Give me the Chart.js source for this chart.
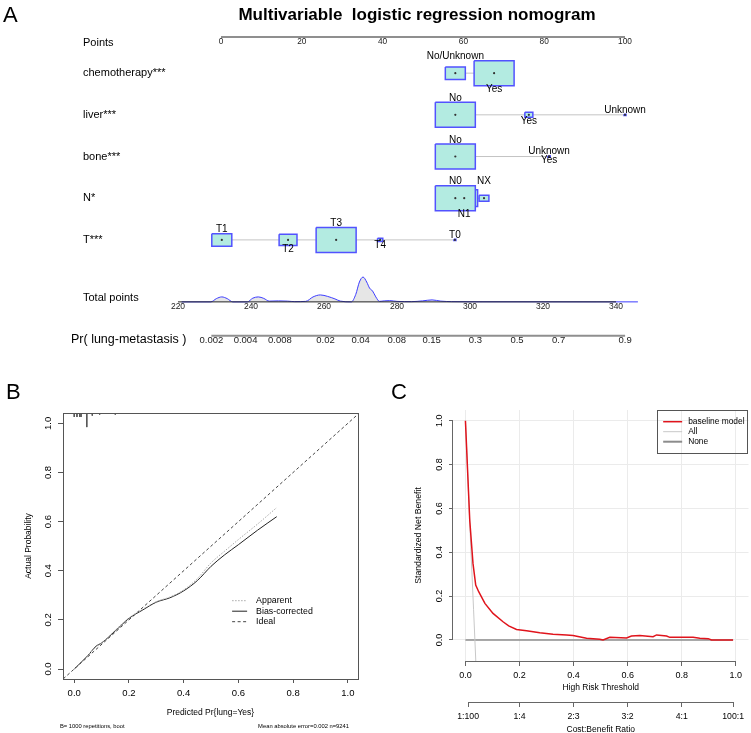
<!DOCTYPE html>
<html>
<head>
<meta charset="utf-8">
<title>Nomogram, calibration and decision curve</title>
<script src="https://cdn.jsdelivr.net/npm/chart.js@4.4.1/dist/chart.umd.min.js"></script>
<style>
  html, body { margin: 0; padding: 0; background: #fff; }
  #fig { position: relative; width: 751px; height: 733px; overflow: hidden; font-family: "Liberation Sans", Arial, sans-serif; }
  .panel { position: absolute; }
  .tag { position: absolute; font-size: 22px; line-height: 1; color: #000; }
</style>
</head>
<body>
<div id="fig">
  <div class="panel" style="left:0;top:0;width:751px;height:365px"><canvas id="nomo"></canvas></div>
  <div class="panel" style="left:0;top:365px;width:375px;height:368px"><canvas id="calib"></canvas></div>
  <div class="panel" style="left:375px;top:365px;width:376px;height:370px"><canvas id="dca"></canvas></div>
  <div class="tag" style="left:3px;top:4px">A</div>
  <div class="tag" style="left:6px;top:381px">B</div>
  <div class="tag" style="left:391px;top:381px">C</div>
</div>
<script>
(function () {
  "use strict";

  // ---- A: nomogram ----
  const pointTicks = [0, 20, 40, 60, 80, 100];
  const totalTicks = [220, 240, 260, 280, 300, 320, 340];
  const probTicks = [0.002, 0.004, 0.008, 0.02, 0.04, 0.08, 0.15, 0.3, 0.5, 0.7, 0.9];

  const rowLabels = ['Points', 'chemotherapy***', 'liver***', 'bone***', 'N*', 'T***', 'Total points'];
  const probLabel = 'Pr( lung-metastasis )';

  const chemoLevels = ['No/Unknown', 'Yes'];
  const chemoPoints = [58.0, 67.6];
  const chemoShare = [0.25, 1.0];
  const liverLevels = ['No', 'Yes', 'Unknown'];
  const liverPoints = [58.0, 76.2, 100];
  const liverShare = [1.0, 0.04, 0.002];
  const boneLevels = ['No', 'Unknown', 'Yes'];
  const bonePoints = [58.0, 81.2, 81.2];
  const boneShare = [1.0, 0.002, 0.002];
  const nLevels = ['N0', 'N1', 'NX'];
  const nPoints = [58.0, 60.2, 65.1];
  const nShare = [1.0, 0.45, 0.06];
  const tLevels = ['T1', 'T2', 'T3', 'T4', 'T0'];
  const tPoints = [0.2, 16.6, 28.5, 39.4, 57.9];
  const tShare = [0.25, 0.2, 1.0, 0.017, 0.002];

  // density of total points
  const densTotal = [221, 229, 230.5, 232, 233.5, 235, 239, 240.5, 242, 243.5, 245, 247.5, 250, 252,
    255, 257, 259, 261, 263, 264.5, 267.5, 268.7, 269.7, 270.7, 271.7, 272.5, 273.3, 274.2, 275.2,
    276.5, 278, 280, 284, 287, 289.6, 292, 295, 300, 320, 346];
  const densValue = [0, 0, 0.13, 0.2, 0.13, 0, 0, 0.15, 0.2, 0.14, 0.03, 0.04, 0.03, 0.01,
    0.02, 0.2, 0.28, 0.22, 0.12, 0.03, 0, 0.3, 0.8, 1.0, 0.8, 0.55, 0.44, 0.2, 0.02,
    0.04, 0.05, 0.02, 0.01, 0.04, 0.08, 0.03, 0.01, 0.005, 0.003, 0];

  // ---- B: calibration ----
  const calTicks = [0, 0.2, 0.4, 0.6, 0.8, 1.0];
  const calPred = [0, 0.05, 0.08, 0.1, 0.15, 0.2, 0.25, 0.3, 0.35, 0.4, 0.45, 0.5, 0.55, 0.6, 0.67, 0.74];
  const calApparent = [0, 0.055, 0.09, 0.105, 0.158, 0.208, 0.243, 0.274, 0.293, 0.322, 0.368, 0.432, 0.48, 0.527, 0.59, 0.657];
  const calBias = [0, 0.055, 0.093, 0.106, 0.155, 0.206, 0.24, 0.272, 0.29, 0.318, 0.36, 0.418, 0.465, 0.506, 0.565, 0.62];
  const rugPred = [0.0, 0.01, 0.02, 0.025, 0.046, 0.066, 0.093, 0.15];
  const rugLen = [0.015, 0.015, 0.015, 0.015, 0.053, 0.01, 0.006, 0.006];

  // ---- C: decision curve ----
  const dcaTicks = [0, 0.2, 0.4, 0.6, 0.8, 1.0];
  const dcaThreshold = [0, 0.016, 0.028, 0.038, 0.049, 0.072, 0.102, 0.139, 0.16, 0.189, 0.226, 0.275, 0.324, 0.374, 0.398,
    0.448, 0.497, 0.509, 0.534, 0.596, 0.614, 0.645, 0.694, 0.707, 0.744, 0.756, 0.842, 0.867, 0.898, 0.91, 0.99];
  const dcaModel = [1.0, 0.545, 0.348, 0.25, 0.22, 0.167, 0.121, 0.083, 0.064, 0.048, 0.042, 0.033, 0.026, 0.023, 0.02,
    0.008, 0.003, 0.0, 0.012, 0.009, 0.018, 0.02, 0.015, 0.023, 0.018, 0.012, 0.012, 0.008, 0.006, 0.0, 0.0];
  const dcaAllThreshold = [0, 0.01, 0.02, 0.03, 0.035, 0.045];
  const dcaAll = [1.0, 0.71, 0.42, 0.14, 0, -0.29];
  const dcaNoneThreshold = [0, 0.99];
  const dcaNone = [0, 0];
  const ratioAt = [0.01, 0.2, 0.4, 0.6, 0.8, 0.99];
  const ratioLabels = ['1:100', '1:4', '2:3', '3:2', '4:1', '100:1'];

  const FONT = '"Liberation Sans", Arial, Helvetica, sans-serif';
  const logit = p => Math.log(p / (1 - p));
  const xy = (xs, ys) => xs.map((v, i) => ({x: v, y: ys[i]}));

  Chart.defaults.font.family = FONT;
  Chart.defaults.color = '#000';
  Chart.defaults.animation = false;
  Chart.defaults.events = [];
  Chart.defaults.plugins.legend.display = false;
  Chart.defaults.plugins.tooltip.enabled = false;
  Chart.defaults.elements.point.radius = 0;

  // R style axis line: only from first to last tick
  const rAxis = {
    id: 'rAxis',
    afterDraw(chart, args, o) {
      if (!o.scales) return;
      const ctx = chart.ctx;
      ctx.save();
      ctx.strokeStyle = o.color;
      ctx.lineWidth = 1;
      o.scales.forEach(id => {
        const s = chart.scales[id];
        const a = s.getPixelForValue(s.ticks[0].value);
        const b = s.getPixelForValue(s.ticks[s.ticks.length - 1].value);
        ctx.beginPath();
        if (s.isHorizontal()) {
          const yy = Math.round(s.top) + 0.5;
          ctx.moveTo(a, yy); ctx.lineTo(b, yy);
        } else {
          const xx = Math.round(s.right) - 0.5;
          ctx.moveTo(xx, a); ctx.lineTo(xx, b);
        }
        ctx.stroke();
      });
      ctx.restore();
    }
  };

  const frame = {
    id: 'frame',
    afterDraw(chart, args, o) {
      if (!o.color) return;
      const a = chart.chartArea, ctx = chart.ctx;
      ctx.save();
      ctx.strokeStyle = o.color;
      ctx.lineWidth = 1;
      ctx.strokeRect(Math.round(a.left) + 0.5, Math.round(a.top) + 0.5, Math.round(a.right - a.left), Math.round(a.bottom - a.top));
      ctx.restore();
    }
  };

  const rLegend = {
    id: 'rLegend',
    afterDraw(chart, args, o) {
      if (!o.items) return;
      const ctx = chart.ctx;
      ctx.save();
      ctx.font = o.font;
      const sets = o.items.map(i => chart.data.datasets[i]);
      const tw = Math.max(...sets.map(d => ctx.measureText(d.label).width));
      let x0, y0;
      if (o.at) {
        x0 = chart.scales.x.getPixelForValue(o.at[0]);
        y0 = chart.scales.y.getPixelForValue(o.at[1]);
      } else {
        const w = o.padL + o.lineLen + o.gap + tw + o.padR;
        const h = o.padT * 2 + (sets.length - 1) * o.rowH;
        const left = chart.chartArea.right - w;
        const top = chart.chartArea.top;
        ctx.strokeStyle = o.frameColor;
        ctx.lineWidth = 1;
        ctx.strokeRect(Math.round(left) + 0.5, Math.round(top) + 0.5, Math.round(w) - 1, Math.round(h));
        x0 = left + o.padL;
        y0 = top + o.padT;
      }
      sets.forEach((d, i) => {
        const yy = y0 + i * o.rowH;
        ctx.strokeStyle = d.borderColor;
        ctx.lineWidth = d.legendWidth || d.borderWidth;
        ctx.setLineDash(d.borderDash || []);
        ctx.beginPath();
        ctx.moveTo(x0, yy);
        ctx.lineTo(x0 + o.lineLen, yy);
        ctx.stroke();
        ctx.setLineDash([]);
        ctx.fillStyle = '#000';
        ctx.textAlign = 'left';
        ctx.textBaseline = 'middle';
        ctx.fillText(d.label, x0 + o.lineLen + o.gap, yy);
      });
      ctx.restore();
    }
  };

  /*---- A: nomogram ----*/
  const nomoVars = [
    {levels: chemoLevels, points: chemoPoints, share: chemoShare},
    {levels: liverLevels, points: liverPoints, share: liverShare},
    {levels: boneLevels, points: bonePoints, share: boneShare},
    {levels: nLevels, points: nPoints, share: nShare},
    {levels: tLevels, points: tPoints, share: tShare}
  ];
  const varRows = [1, 2, 3, 4, 5];
  const rowPoints = 0.13, rowProb = 7.3;
  const labelRows = [0.27, 1, 2, 3, 4, 5, 6.39];
  const probLabelRow = 7.4;
  const labelSide = [['up', 'down'], ['up', 'down', 'up'], ['up', 'up', 'down'], ['up', 'down', 'up'], ['up', 'down', 'up', 'down', 'up']];
  const BOX_W = 9.9, BOX_H = 0.6;
  function boxHalf(share) {
    const s = Math.max(Math.sqrt(share), 0.05);
    return {w: BOX_W * s / 2, h: BOX_H * s / 2};
  }
  // labels clear the tallest box lying close by on the same row
  function labelHalf(v, i) {
    let hh = 0;
    v.points.forEach((p, j) => {
      if (Math.abs(p - v.points[i]) < 10) hh = Math.max(hh, boxHalf(v.share[j]).h);
    });
    return hh;
  }

  const nomoSets = [];
  nomoSets.push({
    data: nomoVars.flatMap((v, r) => v.points.map(p => ({x: p, y: varRows[r]}))),
    showLine: false, pointRadius: 1.1, pointBackgroundColor: '#333', pointBorderWidth: 0, order: 0
  });
  nomoVars.forEach((v, r) => v.points.forEach((p, i) => {
    const h = boxHalf(v.share[i]);
    const row = varRows[r];
    nomoSets.push({
      data: [{x: p - h.w, y: row - h.h}, {x: p + h.w, y: row - h.h}, {x: p + h.w, y: row + h.h},
             {x: p - h.w, y: row + h.h}, {x: p - h.w, y: row - h.h}],
      borderColor: '#5252ff', backgroundColor: '#b3ebe1', borderWidth: 1.5, fill: 'shape', order: 1
    });
  }));
  nomoVars.forEach((v, r) => nomoSets.push({
    data: [{x: Math.min(...v.points), y: varRows[r]}, {x: Math.max(...v.points), y: varRows[r]}],
    borderColor: '#c4c4c4', borderWidth: 1, order: 2
  }));
  nomoSets.push({
    data: [pointTicks[0], pointTicks[pointTicks.length - 1]].map(v => ({x: v, y: rowPoints})),
    borderColor: '#8f8f8f', borderWidth: 2, order: 2
  });
  nomoSets.push({
    data: [totalTicks[0], totalTicks[totalTicks.length - 1]].map(v => ({x: v, y: 0})),
    xAxisID: 'x2', yAxisID: 'dens', borderColor: '#222', borderWidth: 1, order: 1
  });
  nomoSets.push({
    data: xy(densTotal, densValue), xAxisID: 'x2', yAxisID: 'dens',
    borderColor: '#3b3bff', borderWidth: 1, backgroundColor: '#e6e6e6', fill: 'origin',
    cubicInterpolationMode: 'monotone', order: 3
  });
  nomoSets.push({
    data: [probTicks[0], probTicks[probTicks.length - 1]].map(p => ({x: logit(p), y: rowProb})),
    xAxisID: 'x3', borderColor: '#8f8f8f', borderWidth: 2, order: 2
  });

  const levelLabels = {
    id: 'levelLabels',
    afterDatasetsDraw(chart) {
      const {ctx, scales: {x, y}} = chart;
      ctx.save();
      ctx.font = '10px ' + FONT;
      ctx.fillStyle = '#000';
      ctx.textAlign = 'center';
      nomoVars.forEach((v, r) => v.levels.forEach((lab, i) => {
        const hh = labelHalf(v, i);
        const px = x.getPixelForValue(v.points[i]);
        if (labelSide[r][i] === 'up') {
          ctx.textBaseline = 'alphabetic';
          ctx.fillText(lab, px, y.getPixelForValue(varRows[r] - hh) - 1.5);
        } else {
          ctx.textBaseline = 'top';
          ctx.fillText(lab, px, y.getPixelForValue(varRows[r] + hh) - 1.5);
        }
      }));
      ctx.restore();
    }
  };

  const noGrid = {display: false, drawTicks: false};
  new Chart(document.getElementById('nomo'), {
    type: 'line',
    data: {datasets: nomoSets},
    options: {
      responsive: true,
      maintainAspectRatio: false,
      layout: {padding: {left: 0, right: 87, top: 0, bottom: 5}},
      plugins: {
        title: {
          display: true, fullSize: false,
          text: 'Multivariable  logistic regression nomogram',
          font: {size: 17, weight: 'bold', lineHeight: 1.25},
          padding: {top: 5, bottom: 0}, color: '#000'
        }
      },
      scales: {
        x: {
          type: 'linear', min: -12.62, max: 109.65, position: {y: rowPoints},
          afterBuildTicks: s => { s.ticks = pointTicks.map(v => ({value: v})); },
          ticks: {font: {size: 8.3}, padding: 0, color: '#222'},
          grid: noGrid, border: {display: false}
        },
        x2: {
          type: 'linear', min: 217.81, max: 353.15, position: {dens: 0},
          afterBuildTicks: s => { s.ticks = totalTicks.map(v => ({value: v})); },
          ticks: {font: {size: 8.5}, padding: 0, color: '#222'},
          grid: noGrid, border: {display: false}
        },
        x3: {
          type: 'linear', min: -7.053, max: 2.988, position: {y: rowProb},
          afterBuildTicks: s => { s.ticks = probTicks.map(p => ({value: logit(p)})); },
          ticks: {font: {size: 9.5}, padding: -1, color: '#222', callback: (v, i) => String(probTicks[i])},
          grid: noGrid, border: {display: false}
        },
        // row labels: mirrored so they are not clipped to the axis box
        y: {
          type: 'linear', reverse: true, min: -0.125, max: 7.821, position: 'left', weight: 1,
          afterBuildTicks: s => { s.ticks = labelRows.map(v => ({value: v})); },
          afterFit: s => { s.width = 99; },
          ticks: {mirror: true, font: {size: 11}, padding: -87, callback: (v, i) => rowLabels[i]},
          grid: noGrid, border: {display: false}
        },
        yp: {
          type: 'linear', reverse: true, min: -0.125, max: 7.821, position: 'left', weight: 2,
          afterBuildTicks: s => { s.ticks = [{value: probLabelRow}]; },
          afterFit: s => { s.width = 71; },
          ticks: {mirror: true, font: {size: 12.5}, padding: 0, callback: () => probLabel},
          grid: noGrid, border: {display: false}
        },
        dens: {
          axis: 'y', type: 'linear', min: -2.24, max: 11.1, display: false
        }
      }
    },
    plugins: [levelLabels]
  });

  /*---- B: calibration curve ----*/
  const footer = {
    id: 'footer',
    afterDraw(chart, args, o) {
      const ctx = chart.ctx, a = chart.chartArea;
      ctx.save();
      ctx.font = '5.8px ' + FONT;
      ctx.fillStyle = '#000';
      ctx.textBaseline = 'middle';
      ctx.textAlign = 'left';
      ctx.fillText(o.left, a.left - 3, chart.height - 7);
      ctx.textAlign = 'right';
      ctx.fillText(o.right, a.right - 9, chart.height - 7);
      ctx.restore();
    }
  };

  new Chart(document.getElementById('calib'), {
    type: 'line',
    data: {
      datasets: [
        {label: 'Apparent', data: xy(calPred, calApparent), borderColor: '#a8a8a8', borderDash: [1.5, 1.5], borderWidth: 1, cubicInterpolationMode: 'monotone'},
        {label: 'Bias-corrected', data: xy(calPred, calBias), borderColor: '#222', borderWidth: 1, cubicInterpolationMode: 'monotone'},
        {label: 'Ideal', data: [-0.1, 1.1].map(v => ({x: v, y: v})), borderColor: '#444', borderDash: [3, 2.5], borderWidth: 1},
        {label: 'rug', data: rugPred.flatMap((p, i) => [{x: p, y: 0}, {x: p, y: rugLen[i]}, {x: p, y: null}]),
          yAxisID: 'yr', borderColor: '#555', borderWidth: 1}
      ]
    },
    options: {
      responsive: true,
      maintainAspectRatio: false,
      layout: {padding: {left: 24, right: 17, top: 48, bottom: 0}},
      plugins: {
        frame: {color: '#555'},
        rLegend: {items: [0, 1, 2], at: [0.577, 0.278], font: '8.8px ' + FONT, lineLen: 15, gap: 9, rowH: 10.5},
        footer: {left: 'B= 1000 repetitions, boot', right: 'Mean absolute error=0.002 n=9241'}
      },
      scales: {
        x: {
          type: 'linear', min: -0.041, max: 1.037,
          afterBuildTicks: s => { s.ticks = calTicks.map(v => ({value: v})); },
          afterFit: s => { s.height = 54; },
          ticks: {font: {size: 9.5}, padding: 5, callback: v => v.toFixed(1)},
          grid: {display: true, drawOnChartArea: false, tickLength: 4, tickColor: '#555'},
          border: {display: false},
          title: {display: true, text: 'Predicted Pr{lung=Yes}', font: {size: 8.5}, padding: {top: 0, bottom: 15}}
        },
        y: {
          type: 'linear', min: -0.0407, max: 1.042,
          afterBuildTicks: s => { s.ticks = calTicks.map(v => ({value: v})); },
          afterFit: s => { s.width = 39; },
          ticks: {font: {size: 9.5}, padding: 3, minRotation: 90, maxRotation: 90, crossAlign: 'center', callback: v => v.toFixed(1)},
          grid: {display: true, drawOnChartArea: false, tickLength: 5, tickColor: '#555'},
          border: {display: false},
          title: {display: true, text: 'Actual Probability', font: {size: 8.5}, padding: {top: 0, bottom: 0}}
        },
        yr: {type: 'linear', reverse: true, min: 0, max: 1, display: false}
      }
    },
    plugins: [frame, rLegend, footer]
  });

  /*---- C: decision curve ----*/
  const lightGrid = {display: true, color: '#ebebeb', lineWidth: 1, tickLength: 5, tickColor: '#666'};
  new Chart(document.getElementById('dca'), {
    type: 'line',
    data: {
      datasets: [
        {label: 'baseline model', data: xy(dcaThreshold, dcaModel), borderColor: '#e0141c', borderWidth: 1.5},
        {label: 'All', data: xy(dcaAllThreshold, dcaAll), borderColor: '#c8c8c8', borderWidth: 1},
        {label: 'None', data: xy(dcaNoneThreshold, dcaNone), borderColor: '#8c8c8c', borderWidth: 1.5, legendWidth: 2}
      ]
    },
    options: {
      responsive: true,
      maintainAspectRatio: false,
      layout: {padding: {left: 38, right: 2.5, top: 45, bottom: 0}},
      plugins: {
        rAxis: {scales: ['x', 'x2', 'y'], color: '#666'},
        rLegend: {items: [0, 1, 2], font: '8.4px ' + FONT, frameColor: '#555', padL: 6, padR: 4, padT: 11.7, lineLen: 19, gap: 6, rowH: 10}
      },
      scales: {
        x: {
          type: 'linear', min: -0.046, max: 1.047, weight: 1,
          afterBuildTicks: s => { s.ticks = dcaTicks.map(v => ({value: v})); },
          afterFit: s => { s.height = 41; },
          ticks: {font: {size: 9}, padding: 4.5, callback: v => v.toFixed(1)},
          grid: lightGrid,
          border: {display: false},
          title: {display: true, text: 'High Risk Threshold', font: {size: 8.5}, padding: {top: 0, bottom: 8.9}}
        },
        x2: {
          type: 'linear', min: -0.046, max: 1.047, position: 'bottom', weight: 2,
          afterBuildTicks: s => { s.ticks = ratioAt.map(v => ({value: v})); },
          afterFit: s => { s.height = 33; },
          ticks: {font: {size: 8.7}, padding: 4.6, callback: (v, i) => ratioLabels[i]},
          grid: {display: true, drawOnChartArea: false, tickLength: 5, tickColor: '#666'},
          border: {display: false},
          title: {display: true, text: 'Cost:Benefit Ratio', font: {size: 8.5}, padding: {top: 0, bottom: 0}}
        },
        y: {
          type: 'linear', min: -0.096, max: 1.049,
          afterBuildTicks: s => { s.ticks = dcaTicks.map(v => ({value: v})); },
          afterFit: s => { s.width = 40; },
          ticks: {font: {size: 9}, padding: 3, minRotation: 90, maxRotation: 90, crossAlign: 'center', callback: v => v.toFixed(1)},
          grid: {display: true, color: '#ebebeb', lineWidth: 1, tickLength: 4, tickColor: '#666'},
          border: {display: false},
          title: {display: true, text: 'Standardized Net Benefit', font: {size: 8.7}, padding: {top: 0, bottom: 0}}
        }
      }
    },
    plugins: [rAxis, rLegend]
  });
})();
</script>
</body>
</html>
